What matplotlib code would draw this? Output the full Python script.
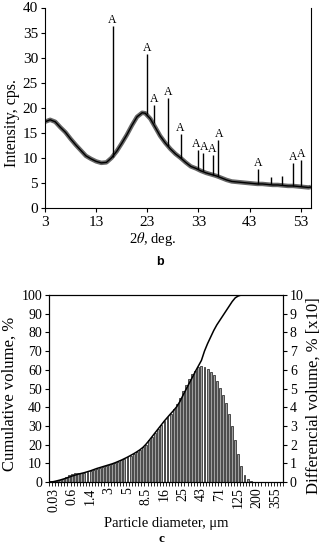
import matplotlib
matplotlib.use("Agg")
import matplotlib.pyplot as plt
import numpy as np

plt.rcParams["font.family"] = ["Liberation Serif", "DejaVu Serif"]
plt.rcParams["mathtext.fontset"] = "stix"

# ---- panel b: XRD pattern (baseline read every ~1 deg, peaks separately)
xrd_deg = [3, 4, 5, 6, 7, 8, 9, 10, 11, 12, 13, 14, 15, 16, 17, 18, 19, 20,
           21, 22, 22.6, 23.6, 24.5, 25.5, 26.5, 27.5, 28.5, 29.5, 30.5, 31.5,
           32.5, 33.5, 34.5, 35.5, 36.5, 37.5, 38.5, 39.5, 40.5, 41.5, 42.5,
           43.5, 44.5, 45.5, 46.5, 47.5, 48.5, 49.5, 50.5, 51.5, 52.5, 53.5,
           54.5, 55]
xrd_int = [17.2, 17.6, 17.2, 16.1, 15.1, 13.8, 12.6, 11.5, 10.4, 9.8, 9.3,
           9.0, 9.1, 10.0, 11.3, 12.9, 14.6, 16.5, 18.2, 19.0, 18.9, 17.8,
           16.2, 14.4, 13.0, 11.8, 10.8, 10.0, 9.1, 8.3, 7.9, 7.4, 7.0, 6.7,
           6.4, 6.0, 5.6, 5.3, 5.2, 5.1, 5.0, 4.9, 4.8, 4.8, 4.7, 4.6, 4.6,
           4.5, 4.4, 4.4, 4.3, 4.2, 4.1, 4.2]

peak_deg = [16.2, 23.0, 24.4, 27.0, 29.5, 32.9, 33.8, 35.8, 36.9, 44.6, 47.1,
            49.4, 51.5, 53.1]
peak_base = [10.2, 18.8, 17.0, 12.3, 10.0, 7.8, 7.3, 6.6, 6.4, 4.8, 4.7, 4.6,
             4.4, 4.3]
peak_top = [36.3, 30.8, 20.6, 22.0, 14.8, 11.6, 11.0, 10.6, 13.5, 7.7, 6.2,
            6.4, 9.0, 9.5]
peak_label = ["A", "A", "A", "A", "A", "A", "A", "A", "A", "A", "", "", "A", "A"]
label_shift = [0, 0, 0, 0, 0, -0.4, 0.4, -0.1, 0.1, 0, 0, 0, 0, 0]  # keep crowded "A"s apart

# ---- panel c: particle size distribution (76 size classes)
size_ticklabels = ["0.03", "0.6", "1.4", "3", "5", "8.5", "16", "25", "43",
                   "71", "125", "200", "355"]
diff_vol = [0.3, 0.5, 0.8, 1.2, 1.8, 2.6, 3.5, 4.3, 4.7, 4.9, 5.0, 5.0, 5.3,
            5.8, 6.4, 7.0, 7.5, 8.0, 8.5, 9.0, 9.5, 10.0, 10.7, 11.5, 12.3,
            13.2, 14.1, 15.1, 16.2, 17.3, 18.5, 20.0, 22.2, 24.2, 26.2, 28.3,
            30.3, 32.4, 34.5, 36.6, 38.8, 41.5, 45.0, 48.5, 52.0, 55.0, 57.5,
            59.5, 61.3, 62.0, 61.5, 60.5, 59.0, 57.0, 54.0, 50.5, 46.5, 42.0,
            36.5, 30.0, 22.5, 15.0, 8.5, 4.0, 1.5, 0.5, 0, 0, 0, 0, 0, 0, 0,
            0, 0, 0]
cum_vol = [0, 0.2, 0.6, 1.0, 1.5, 2.0, 2.6, 3.2, 3.7, 4.2, 4.6, 5.0, 5.5, 6.0,
           6.6, 7.2, 7.7, 8.2, 8.7, 9.2, 9.7, 10.3, 11.0, 11.7, 12.5, 13.3,
           14.2, 15.1, 16.1, 17.2, 18.5, 20.2, 22.2, 24.3, 26.4, 28.5, 30.6,
           32.7, 34.6, 36.5, 38.3, 40.3, 43.0, 46.3, 49.5, 52.7, 55.8, 59.0,
           62.0, 65.0, 70.0, 74.0, 77.5, 81.0, 84.0, 86.5, 89.0, 91.5, 94.0,
           96.5, 98.5, 99.5, 100, 100, 100, 100, 100, 100, 100, 100, 100, 100,
           100, 100, 100, 100]

fig = plt.figure(figsize=(3.23, 5.5), dpi=100)

# ---------------- panel b
ax = fig.add_axes([45 / 323, 1 - 208 / 550, 266 / 323, 200.5 / 550])
ax.plot(xrd_deg, xrd_int, color="#666666", lw=3.2, solid_capstyle="butt")
ax.plot(xrd_deg, xrd_int, color="black", lw=1.0)
ax.vlines(peak_deg, peak_base, peak_top, color="black", lw=1.0)
for d, t, lab, sh in zip(peak_deg, peak_top, peak_label, label_shift):
    if lab:
        ax.text(d + sh, t, lab, ha="center", va="bottom", fontsize=8.5)
ax.set_xlim(3, 55)
ax.set_ylim(0, 40)
ax.set_xticks(range(3, 54, 10))
ax.set_yticks(range(0, 41, 5))
ax.spines["top"].set_visible(False)
ax.tick_params(axis="both", direction="out", length=3, width=0.8,
               labelsize=11, pad=2)
ax.tick_params(axis="x", pad=3)
fig.text(12 / 323, 1 - 123 / 550, "Intensity, cps.", rotation=90,
         ha="center", va="center", fontsize=11.5)
fig.text(153 / 323, 1 - 239 / 550, r"2$\theta$, deg.", ha="center",
         va="center", fontsize=10.5)
fig.text(160 / 323, 1 - 262 / 550, "b", ha="center", va="center",
         fontsize=9, fontweight="bold", family="Liberation Sans")

# ---------------- panel c
n = len(diff_vol)
pos = np.arange(n)
ax2 = fig.add_axes([49 / 323, 1 - 482 / 550, 234 / 323, 187 / 550])
ax2.bar(pos, diff_vol, width=0.62, color="#a0a0a0", edgecolor="black",
        linewidth=0.45)
ax2.plot(pos, cum_vol, color="black", lw=1.1)
ax2.set_xlim(-0.5, n - 0.5)
ax2.set_ylim(0, 100)
ax2.set_yticks(range(0, 101, 10))
ax2.set_xticks(pos[1::6][:len(size_ticklabels)])
ax2.set_xticklabels(size_ticklabels, rotation=90)
ax2.set_xticks(np.arange(n + 1) - 0.5, minor=True)
ax2.tick_params(axis="x", which="major", length=0, labelsize=10, pad=4)
ax2.tick_params(axis="x", which="minor", direction="out", length=3,
                width=0.6)
ax2.tick_params(axis="y", direction="out", length=3, width=0.8,
                labelsize=10, pad=2)
for s in ax2.spines.values():
    s.set_linewidth(0.8)

axr = ax2.twinx()
axr.set_ylim(0, 10)
axr.set_yticks(range(0, 11))
axr.tick_params(axis="y", direction="out", length=3, width=0.8,
                labelsize=10, pad=2)

fig.text(10 / 323, 1 - 394 / 550, "Cumulative volume, %", rotation=90,
         ha="center", va="center", fontsize=12)
fig.text(314 / 323, 1 - 396 / 550, "Differencial volume, % [x10]",
         rotation=90, ha="center", va="center", fontsize=12)
fig.text(166 / 323, 1 - 523 / 550, "Particle diameter, \u03bcm",
         ha="center", va="center", fontsize=10.5)
fig.text(161 / 323, 1 - 539 / 550, "c", ha="center", va="center",
         fontsize=9.5, fontweight="bold")

fig.savefig("out.png", dpi=100)
